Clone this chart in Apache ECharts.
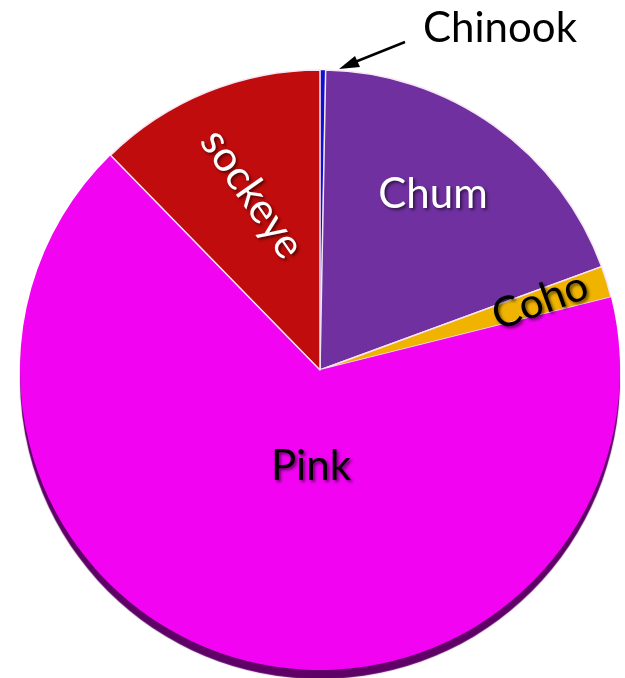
<!DOCTYPE html>
<html>
<head>
<meta charset="utf-8">
<script src="https://cdn.jsdelivr.net/npm/echarts@6/dist/echarts.min.js"></script>
<style>
html,body{margin:0;padding:0;background:#fff;}
#chart{width:625px;height:678px;}
</style>
</head>
<body>
<div id="chart"></div>
<script>
// Data (percent of harvest)
const species = ['Chinook', 'Chum', 'Coho', 'Pink', 'sockeye'];
const shares  = [0.3, 19.1, 1.7, 66.6, 12.3];

// Styling kept separate from data
const sliceColors = {
  Chinook: '#1010d0',
  Chum: '#7030a0',
  Coho: '#efb300',
  Pink: '#f203f2',
  sockeye: '#c00c0c'
};
const labelStyle = {
  Chinook: { color: '#000', rotate: 0, x: 500, y: 28, shadow: false },
  Chum:    { color: '#fff', rotate: 0, x: 433, y: 194, shadow: true },
  Coho:    { color: '#000', rotate: 20, x: 540, y: 301, shadow: true },
  Pink:    { color: '#000', rotate: 0, x: 311, y: 466, shadow: true },
  sockeye: { color: '#fff', rotate: -55, x: 252, y: 194, shadow: true }
};

const FONT = 'Lato, "Open Sans", sans-serif';

const data = species.map((name, i) => {
  const ls = labelStyle[name];
  const item = {
    name: name,
    value: shares[i],
    itemStyle: { color: sliceColors[name] },
    label: {
      show: true,
      position: name === 'Chinook' ? 'outside' : 'inside',
      color: ls.color,
      rotate: ls.rotate,
      fontSize: 42,
      fontFamily: FONT,
      align: 'center',
      verticalAlign: 'middle',
      textShadowColor: ls.shadow ? 'rgba(0,0,0,0.55)' : 'transparent',
      textShadowBlur: ls.shadow ? 3 : 0,
      textShadowOffsetX: ls.shadow ? 2 : 0,
      textShadowOffsetY: ls.shadow ? 2 : 0
    },
    labelLine: { show: false }
  };
  if (name === 'Chinook') {
    item.itemStyle.borderWidth = 0.5;
  }
  if (name === 'Pink') {
    item.itemStyle.borderWidth = 0;
    item.itemStyle.shadowColor = '#5e0066';
    item.itemStyle.shadowBlur = 1;
    item.itemStyle.shadowOffsetY = 9;
  }
  return item;
});

const chart = echarts.init(document.getElementById('chart'), null, { renderer: 'canvas' });
chart.setOption({
  backgroundColor: '#ffffff',
  animation: false,
  // annotation arrow pointing from the "Chinook" label to its thin slice
  graphic: [
    {
      type: 'line',
      shape: { x1: 405, y1: 42, x2: 350, y2: 64 },
      style: { stroke: '#000', lineWidth: 2.5 },
      z: 10
    },
    {
      type: 'polygon',
      shape: { points: [[339, 69], [355, 56], [360, 67]] },
      style: { fill: '#000' },
      z: 10
    }
  ],
  series: [{
    type: 'pie',
    center: [320, 370],
    radius: [0, 300],
    startAngle: 90,
    clockwise: true,
    avoidLabelOverlap: false,
    minShowLabelAngle: 0,
    itemStyle: { borderColor: '#f6e6f6', borderWidth: 1.5 },
    label: { formatter: '{b}' },
    labelLayout: function (params) {
      const ls = labelStyle[species[params.dataIndex]];
      return { x: ls.x, y: ls.y, align: 'center', verticalAlign: 'middle' };
    },
    data: data
  }]
});
</script>
</body>
</html>
